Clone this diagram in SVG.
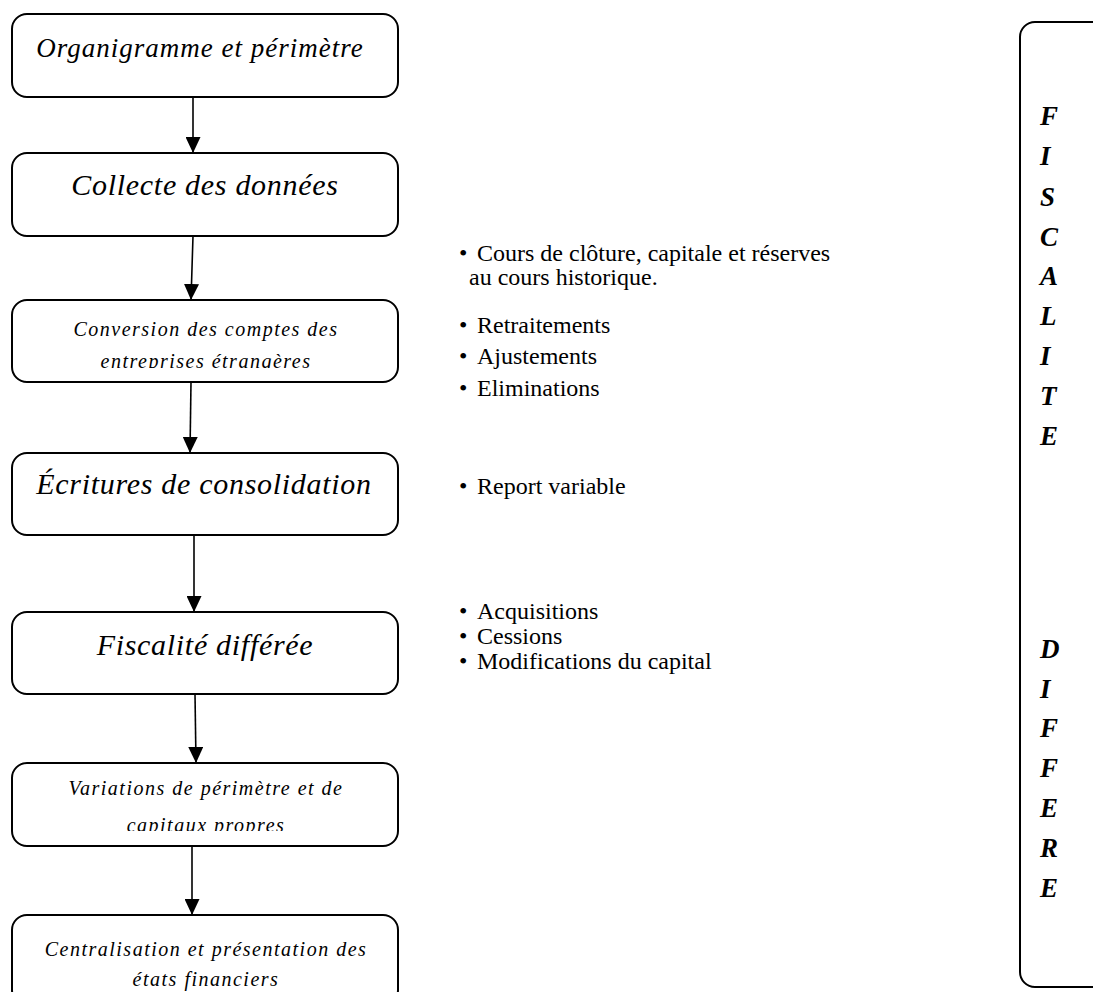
<svg xmlns="http://www.w3.org/2000/svg" width="1093" height="992" viewBox="0 0 1093 992">
  <style>
    .box { fill: #ffffff; stroke: #000000; stroke-width: 2; }
    .big { font-family: "Liberation Serif", "Times New Roman", serif; font-style: italic; font-size: 30px; letter-spacing: 0.7px; fill: #000; text-anchor: middle; }
    .mid { font-family: "Liberation Serif", "Times New Roman", serif; font-style: italic; font-size: 27px; letter-spacing: 1px; fill: #000; text-anchor: middle; }
    .small { font-family: "Liberation Serif", "Times New Roman", serif; font-style: italic; font-size: 20px; letter-spacing: 1.5px; fill: #000; text-anchor: middle; }
    .note { font-family: "Liberation Serif", "Times New Roman", serif; font-size: 24px; fill: #000; }
    .side { font-family: "Liberation Serif", "Times New Roman", serif; font-style: italic; font-weight: bold; font-size: 27px; fill: #000; }
    .conn { stroke: #000; stroke-width: 1.6; fill: none; marker-end: url(#head); }
  </style>
  <defs>
    <marker id="head" viewBox="0 0 16 15" refX="16" refY="7.5" markerUnits="userSpaceOnUse" markerWidth="16" markerHeight="15" orient="auto">
      <path d="M0,0 L16,7.5 L0,15 Z" fill="#000"/>
    </marker>
    <clipPath id="clip3"><rect x="12" y="300" width="386" height="68"/></clipPath>
    <clipPath id="clip6"><rect x="12" y="763" width="386" height="68"/></clipPath>
  </defs>

  <rect width="1093" height="992" fill="#ffffff"/>

  <!-- process steps -->
  <g id="step-organigramme">
    <rect class="box" x="12" y="14" width="386" height="83" rx="15"/>
    <text class="mid" x="200" y="57">Organigramme et périmètre</text>
  </g>
  <g id="step-collecte">
    <rect class="box" x="12" y="153" width="386" height="83" rx="15"/>
    <text class="big" x="205" y="195">Collecte des données</text>
  </g>
  <g id="step-conversion">
    <rect class="box" x="12" y="300" width="386" height="82" rx="15"/>
    <g clip-path="url(#clip3)">
      <text class="small" x="206" y="336">Conversion des comptes des</text>
      <text class="small" x="206" y="368">entreprises étrangères</text>
    </g>
  </g>
  <g id="step-ecritures">
    <rect class="box" x="12" y="453" width="386" height="82" rx="15"/>
    <text class="big" x="204" y="494">Écritures de consolidation</text>
  </g>
  <g id="step-fiscalite">
    <rect class="box" x="12" y="612" width="386" height="82" rx="15"/>
    <text class="big" x="205" y="655">Fiscalité différée</text>
  </g>
  <g id="step-variations">
    <rect class="box" x="12" y="763" width="386" height="83" rx="15"/>
    <g clip-path="url(#clip6)">
      <text class="small" x="206" y="795">Variations de périmètre et de</text>
      <text class="small" x="206" y="832">capitaux propres</text>
    </g>
  </g>
  <g id="step-centralisation">
    <rect class="box" x="12" y="915" width="386" height="90" rx="15"/>
    <text class="small" x="206" y="956">Centralisation et présentation des</text>
    <text class="small" x="206" y="986">états financiers</text>
  </g>

  <!-- connectors between steps -->
  <g id="connectors">
    <line class="conn" x1="193" y1="97" x2="193" y2="153"/>
    <line class="conn" x1="193" y1="236" x2="191" y2="300"/>
    <line class="conn" x1="191" y1="382" x2="190" y2="453"/>
    <line class="conn" x1="194" y1="535" x2="194" y2="612"/>
    <line class="conn" x1="195" y1="694" x2="196" y2="763"/>
    <line class="conn" x1="192" y1="846" x2="192" y2="915"/>
  </g>

  <!-- notes beside the steps -->
  <g id="notes">
    <text class="note" x="459" y="261">•</text>
    <text class="note" x="477" y="261">Cours de clôture, capitale et réserves</text>
    <text class="note" x="469" y="285">au cours historique.</text>
    <text class="note" x="459" y="333">•</text>
    <text class="note" x="477" y="333">Retraitements</text>
    <text class="note" x="459" y="364">•</text>
    <text class="note" x="477" y="364">Ajustements</text>
    <text class="note" x="459" y="396">•</text>
    <text class="note" x="477" y="396">Eliminations</text>
    <text class="note" x="459" y="494">•</text>
    <text class="note" x="477" y="494">Report variable</text>
    <text class="note" x="459" y="619">•</text>
    <text class="note" x="477" y="619">Acquisitions</text>
    <text class="note" x="459" y="644">•</text>
    <text class="note" x="477" y="644">Cessions</text>
    <text class="note" x="459" y="669">•</text>
    <text class="note" x="477" y="669">Modifications du capital</text>
  </g>

  <!-- vertical side panel -->
  <g id="side-panel">
    <path class="box" d="M1100,22 H1035 A15,15 0 0 0 1020,37 V972 A15,15 0 0 0 1035,987 H1100"/>
    <text class="side" x="1040" y="125">F</text>
    <text class="side" x="1040" y="165">I</text>
    <text class="side" x="1040" y="206">S</text>
    <text class="side" x="1040" y="246">C</text>
    <text class="side" x="1040" y="285">A</text>
    <text class="side" x="1040" y="325">L</text>
    <text class="side" x="1040" y="365">I</text>
    <text class="side" x="1040" y="405">T</text>
    <text class="side" x="1040" y="445">E</text>
    <text class="side" x="1040" y="658">D</text>
    <text class="side" x="1040" y="698">I</text>
    <text class="side" x="1040" y="737">F</text>
    <text class="side" x="1040" y="777">F</text>
    <text class="side" x="1040" y="817">E</text>
    <text class="side" x="1040" y="857">R</text>
    <text class="side" x="1040" y="897">E</text>
  </g>
</svg>
